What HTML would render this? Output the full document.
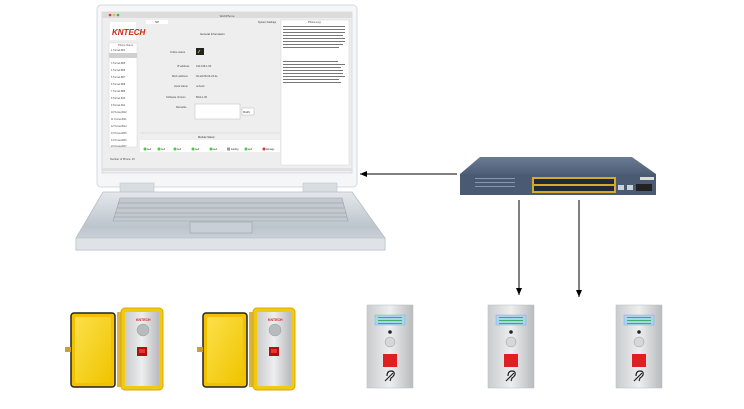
<!DOCTYPE html>
<html><head><meta charset="utf-8"><style>
html,body{margin:0;padding:0;background:#fff;}
svg{display:block;font-family:"Liberation Sans",sans-serif;}
</style></head><body>
<svg width="744" height="409" viewBox="0 0 744 409" xmlns="http://www.w3.org/2000/svg">
<defs>
<linearGradient id="base" x1="0" y1="0" x2="0" y2="1"><stop offset="0" stop-color="#e4e8ec"/><stop offset="0.6" stop-color="#bcc4cc"/><stop offset="1" stop-color="#d8dde2"/></linearGradient>
<linearGradient id="steel" x1="0" y1="0" x2="1" y2="0"><stop offset="0" stop-color="#c9cbcd"/><stop offset="0.5" stop-color="#eceeef"/><stop offset="1" stop-color="#b8bbbe"/></linearGradient>
<linearGradient id="yel" x1="0" y1="0" x2="1" y2="1"><stop offset="0" stop-color="#fbe04a"/><stop offset="1" stop-color="#f0c400"/></linearGradient>
<linearGradient id="swtop" x1="0" y1="0" x2="0" y2="1"><stop offset="0" stop-color="#6a7b94"/><stop offset="1" stop-color="#4e5e76"/></linearGradient>
<marker id="ar" markerWidth="8" markerHeight="8" refX="7" refY="4" orient="auto"><path d="M0,1 L7,4 L0,7 z" fill="#000"/></marker>
</defs>

<rect x="97" y="5" width="260" height="182" rx="4" fill="#f4f6f8" stroke="#d5d9dd"/>
<rect x="102" y="12" width="250" height="161" fill="#eeeeee" stroke="#c8c8c8" stroke-width="0.5"/>
<rect x="102" y="12" width="250" height="6" fill="#dcdcdc"/>
<circle cx="110" cy="15" r="1.3" fill="#e33"/><circle cx="114" cy="15" r="1.3" fill="#eb3"/><circle cx="118" cy="15" r="1.3" fill="#3b3"/>
<text x="227" y="17" font-size="3" fill="#555" text-anchor="middle">WebPhone</text>
<rect x="110" y="22" width="26" height="18" fill="#fff"/>
<text x="112" y="35" font-size="8" font-weight="bold" fill="#c21" font-style="italic">KNTECH</text>
<rect x="109" y="43" width="28" height="104" fill="#fff" stroke="#ccc" stroke-width="0.4"/>
<text x="118" y="46" font-size="2.6" fill="#555">Phone Name</text>
<g font-size="2.4" fill="#444">
<text x="111" y="51">1 Tunnel-B01</text><text x="111" y="57">2 Tunnel-B08</text><text x="111" y="64">3 Tunnel-B05</text><text x="111" y="71">4 Tunnel-B06</text><text x="111" y="78">5 Tunnel-B07</text><text x="111" y="85">6 Tunnel-B08</text><text x="111" y="92">7 Tunnel-B09</text><text x="111" y="99">8 Tunnel-B10</text><text x="111" y="106">9 Tunnel-B11</text><text x="111" y="113">10 Tunnel-B12</text><text x="111" y="120">11 Tunnel-B13</text><text x="111" y="127">12 Tunnel-B14</text><text x="111" y="134">13 Tunnel-B15</text><text x="111" y="141">14 Tunnel-B16</text><text x="111" y="147">15 Tunnel-B17</text>
</g>
<rect x="109" y="53" width="28" height="5" fill="#d0d0d0"/>
<text x="110" y="160" font-size="2.6" fill="#444">Number of Phone: 15</text>
<rect x="146" y="20" width="22" height="4" fill="#fff"/>
<text x="155" y="23" font-size="2.5" fill="#333">SIP</text>
<text x="258" y="23" font-size="2.5" fill="#333">System Settings</text>
<text x="200" y="35" font-size="2.8" fill="#333">General Information</text>
<g font-size="2.6" fill="#444">
<text x="170" y="53">Online status</text><text x="177" y="67">IP address</text><text x="172" y="77">MAC address</text><text x="174" y="87">Hook status</text><text x="166" y="98">Software Version</text><text x="176" y="108">Remarks</text>
<text x="196" y="67">192.168.1.90</text><text x="196" y="77">00-e8-08-03-23-0e</text><text x="196" y="87">onhook</text><text x="196" y="98">BAS-1.00</text>
</g>
<rect x="196" y="48" width="8" height="7" fill="#222"/><path d="M198,53 l2,-3" stroke="#7c3" stroke-width="1"/>
<rect x="195" y="104" width="45" height="15" fill="#fff" stroke="#bbb" stroke-width="0.5"/>
<rect x="242" y="108" width="12" height="7" fill="#fff" stroke="#aaa" stroke-width="0.4"/>
<text x="243" y="113" font-size="2.4" fill="#333">Modify</text>
<line x1="140" y1="133" x2="280" y2="133" stroke="#ccc" stroke-width="0.5"/>
<text x="198" y="138" font-size="2.6" fill="#333">Module Status</text>
<rect x="140" y="140" width="140" height="12" fill="#fff"/>
<g font-size="2.3" fill="#333">
<circle cx="145" cy="149" r="1.5" fill="#4c4"/><circle cx="159" cy="149" r="1.5" fill="#4c4"/><circle cx="175" cy="149" r="1.5" fill="#4c4"/><circle cx="193" cy="149" r="1.5" fill="#4c4"/><circle cx="211" cy="149" r="1.5" fill="#4c4"/><rect x="227" y="147.5" width="3" height="3" fill="#999"/><circle cx="246" cy="149" r="1.5" fill="#4c4"/><circle cx="264" cy="149" r="1.5" fill="#d33"/>
<text x="147" y="150">well</text><text x="161" y="150">well</text><text x="177" y="150">well</text><text x="195" y="150">well</text><text x="213" y="150">well</text><text x="231" y="150">loading</text><text x="248" y="150">well</text><text x="266" y="150">damage</text>
</g>
<rect x="281" y="20" width="68" height="145" fill="#fff" stroke="#ccc" stroke-width="0.4"/>
<text x="308" y="23" font-size="2.6" fill="#333">Phone Log</text>
<g fill="#777">
<rect x="283" y="26" width="62" height="1"/><rect x="283" y="29" width="62" height="1"/><rect x="283" y="32" width="62" height="1"/><rect x="283" y="35" width="60" height="1"/><rect x="283" y="38" width="62" height="1"/><rect x="283" y="41" width="62" height="1"/><rect x="283" y="44" width="60" height="1"/><rect x="283" y="47" width="56" height="1"/>
<rect x="283" y="61" width="55" height="1"/><rect x="283" y="64" width="62" height="1"/><rect x="283" y="67" width="58" height="1"/><rect x="283" y="70" width="60" height="1"/><rect x="283" y="73" width="60" height="1"/><rect x="283" y="76" width="62" height="1"/><rect x="283" y="79" width="56" height="1"/><rect x="283" y="82" width="58" height="1"/>
</g>
<rect x="102" y="168" width="250" height="3" fill="#e0e0e0"/>
<rect x="120" y="183" width="34" height="10" fill="#d8dde2" stroke="#bfc5cb" stroke-width="0.6"/>
<rect x="303" y="183" width="34" height="10" fill="#d8dde2" stroke="#bfc5cb" stroke-width="0.6"/>
<path d="M103,192 L352,192 L385,238 L385,250 L76,250 L76,238 Z" fill="url(#base)" stroke="#b6bcc2" stroke-width="0.8"/>
<rect x="76" y="238" width="309" height="12" fill="#dfe3e7" stroke="#b6bcc2" stroke-width="0.6"/>
<path d="M120,198 L342,198 L348,221 L113,221 Z" fill="#c3c9cf" stroke="#9aa2aa" stroke-width="0.6"/>
<g stroke="#8e969e" stroke-width="0.5">
<line x1="118" y1="203" x2="343" y2="203"/><line x1="117" y1="208" x2="344" y2="208"/><line x1="115" y1="213" x2="346" y2="213"/><line x1="114" y1="217" x2="347" y2="217"/>
</g>
<rect x="190" y="222" width="62" height="11" fill="#c8cfd6" stroke="#9aa2aa" stroke-width="0.6"/>

<path d="M480,157 L632,157 L656,174 L460,174 Z" fill="url(#swtop)"/>
<rect x="460" y="174" width="196" height="21" fill="#4a5a72"/>
<rect x="532" y="177" width="84" height="16" fill="#d6a92a"/>
<g fill="#1f2a36"><rect x="534" y="179" width="80" height="5"/><rect x="534" y="186" width="80" height="5"/></g>
<g fill="#c9d1da"><rect x="618" y="185" width="6" height="5"/><rect x="627" y="185" width="6" height="5"/></g>
<rect x="636" y="184" width="16" height="7" fill="#222"/>
<rect x="640" y="177" width="14" height="3" fill="#ddd"/>
<g fill="#8897ad"><rect x="475" y="178" width="40" height="1"/><rect x="475" y="182" width="40" height="1"/><rect x="475" y="186" width="40" height="1"/></g>

<line x1="457" y1="174" x2="360" y2="174" stroke="#000" stroke-width="1" marker-end="url(#ar)"/>
<line x1="519" y1="200" x2="519" y2="295" stroke="#000" stroke-width="1" marker-end="url(#ar)"/>
<line x1="579" y1="200" x2="579" y2="297" stroke="#000" stroke-width="1" marker-end="url(#ar)"/>

<g id="yb">
<rect x="71" y="313" width="44" height="74" rx="3" fill="#f2c200" stroke="#222" stroke-width="1.5"/>
<rect x="75" y="317" width="36" height="66" rx="2" fill="url(#yel)"/>
<rect x="65" y="347" width="6" height="5" fill="#c9a033"/>
<rect x="117" y="312" width="6" height="75" fill="#d9b53a"/>
<rect x="121" y="308" width="42" height="82" rx="4" fill="#f2c912" stroke="#d9a800"/>
<rect x="125" y="312" width="34" height="74" fill="url(#steel)"/>
<text x="136" y="321" font-size="3.5" fill="#c21" font-weight="bold">KNTECH</text>
<circle cx="143" cy="330" r="6" fill="#b8bbbe" stroke="#999" stroke-width="0.5"/>
<rect x="137" y="347" width="10" height="9" fill="#b01010"/>
<rect x="139" y="349" width="6" height="4" fill="#e33"/>
</g>
<use href="#yb" transform="translate(132,0)"/>

<g id="sp">
<rect x="367" y="305" width="46" height="83" fill="url(#steel)" stroke="#c0c3c6" stroke-width="0.6"/>
<rect x="375" y="315" width="30" height="10" fill="#a9d4f0" stroke="#7aa" stroke-width="0.4"/>
<g fill="#4a6"><rect x="378" y="317" width="24" height="1"/><rect x="378" y="320" width="24" height="1"/><rect x="378" y="323" width="24" height="1"/></g>
<circle cx="390" cy="332" r="1.8" fill="#222"/>
<circle cx="390" cy="342" r="5" fill="#d5d7d9" stroke="#999" stroke-width="0.5"/>
<rect x="383" y="354" width="14" height="13" fill="#e02020"/>
<path d="M387,376 q0,-5 4,-5 q4,0 3,4 q-1,2 -3,3 l-1,3 M385,381 l8,-8" stroke="#222" stroke-width="1.2" fill="none"/>
</g>
<use href="#sp" transform="translate(121,0)"/>
<use href="#sp" transform="translate(249,0)"/>
</svg>
</body></html>
